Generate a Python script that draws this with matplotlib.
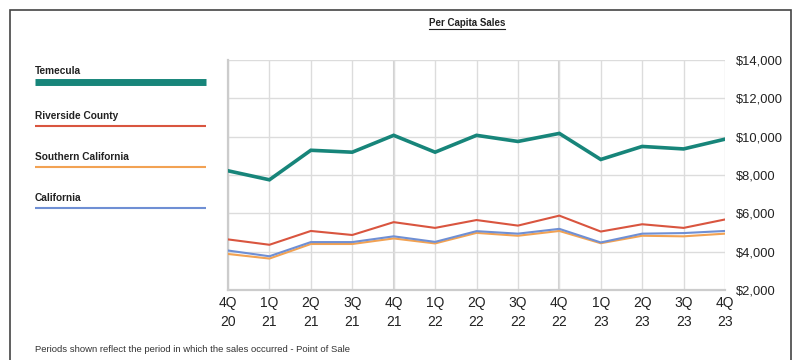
import matplotlib.pyplot as plt
from matplotlib.patches import Rectangle
from matplotlib.lines import Line2D

plt.rcParams['font.family'] = ['Liberation Sans', 'DejaVu Sans']

quarters = ['4Q\n20', '1Q\n21', '2Q\n21', '3Q\n21', '4Q\n21', '1Q\n22', '2Q\n22',
            '3Q\n22', '4Q\n22', '1Q\n23', '2Q\n23', '3Q\n23', '4Q\n23']

temecula = [8220, 7750, 9290, 9190, 10070, 9190, 10070, 9750, 10170, 8810, 9490, 9360, 9870]
riverside = [4640, 4360, 5080, 4870, 5540, 5240, 5650, 5360, 5880, 5050, 5430, 5240, 5680]
southern_ca = [3880, 3640, 4400, 4400, 4690, 4430, 4980, 4830, 5080, 4440, 4830, 4800, 4940]
california = [4060, 3760, 4500, 4500, 4800, 4510, 5070, 4940, 5190, 4480, 4940, 4970, 5080]

series_names = ['Temecula', 'Riverside County', 'Southern California', 'California']
colors = ['#17857a', '#d9553f', '#f2a253', '#6f8fd4']
y_ticks = [2000, 4000, 6000, 8000, 10000, 12000, 14000]

W, H = 799, 360
fig = plt.figure(figsize=(W / 100, H / 100), dpi=100)

# outer frame
fig.patches.append(Rectangle((10 / W, -0.05), 781 / W, 1.05 - 10 / H,
                             transform=fig.transFigure, fill=False,
                             edgecolor='#444444', linewidth=1.2))

ax = fig.add_axes([228 / W, 1 - 290 / H, 497 / W, 230 / H])
x = list(range(len(quarters)))

# draw order: lower lines first, Temecula on top
ax.plot(x, southern_ca, color=colors[2], lw=1.5, zorder=3)
ax.plot(x, california, color=colors[3], lw=1.5, zorder=4)
ax.plot(x, riverside, color=colors[1], lw=1.5, zorder=5)
ax.plot(x, temecula, color=colors[0], lw=2.6, zorder=6, solid_joinstyle='miter')

ax.set_xlim(0, len(quarters) - 1)
ax.set_ylim(2000, 14000)
ax.set_xticks(x)
ax.set_xticklabels(quarters, fontsize=10, color='#222222', linespacing=1.5)
ax.set_yticks(y_ticks)
ax.set_yticklabels(['${:,}'.format(v) for v in y_ticks], fontsize=9.3, color='#222222')
ax.yaxis.tick_right()
ax.tick_params(axis='x', length=0, pad=4)
ax.tick_params(axis='y', length=0, pad=8)

ax.grid(True, color='#dcdcdc', lw=1.0, zorder=0)
for i, q in enumerate(quarters):
    if q.startswith('4Q') and 0 < i < len(quarters) - 1:
        ax.axvline(i, color='#d2d2d2', lw=1.5, zorder=1)
for side in ['top', 'right']:
    ax.spines[side].set_visible(False)
for side in ['left', 'bottom']:
    ax.spines[side].set_color('#cccccc')
    ax.spines[side].set_linewidth(1.6)

# title, underlined
title = fig.text(467 / W, 1 - 23 / H, 'Per Capita Sales', ha='center', va='center',
                 fontsize=7, fontweight='bold', color='#222222')
fig.canvas.draw()
bb = title.get_window_extent().transformed(fig.transFigure.inverted())
fig.add_artist(Line2D([bb.x0, bb.x1], [bb.y0 - 1 / H, bb.y0 - 1 / H],
                      transform=fig.transFigure, color='#222222', lw=0.8))

# legend on the left
label_y = [71, 116, 157, 198]
line_y = [82, 126, 167, 208]
widths = [5, 1.5, 1.5, 1.5]
for name, c, ly, lny, w in zip(series_names, colors, label_y, line_y, widths):
    fig.text(35 / W, 1 - ly / H, name, ha='left', va='center', fontsize=7.3,
             fontweight='bold', color='#222222')
    fig.add_artist(Line2D([35 / W, 206 / W], [1 - lny / H, 1 - lny / H],
                          transform=fig.transFigure, color=c, lw=w,
                          solid_capstyle='butt'))

fig.text(35 / W, 1 - 350 / H,
         'Periods shown reflect the period in which the sales occurred - Point of Sale',
         ha='left', va='center', fontsize=6.8, color='#333333')

fig.savefig('out.png', dpi=100)
